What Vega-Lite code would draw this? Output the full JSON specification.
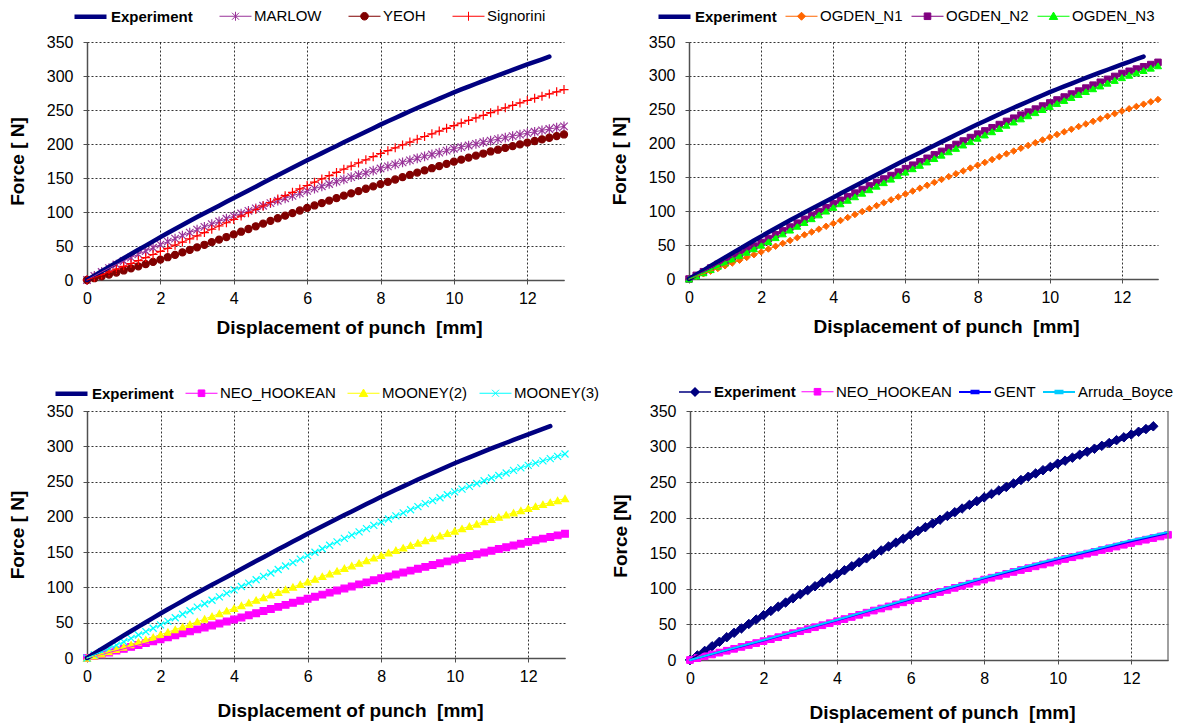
{
"$schema": "https://vega.github.io/schema/vega-lite/v6.json",
"padding": {"left": 8, "top": 4, "right": 1, "bottom": 1},
"background": "white",
"config": {
 "font": "Liberation Sans, Arial, sans-serif",
 "view": {"stroke": null},
 "axis": {"labelFontSize": 16, "labelColor": "#000000", "titleFontSize": 19, "titleFontWeight": "bold", "titleColor": "#000000", "grid": true, "gridColor": "#000000", "gridDash": [2, 2], "gridWidth": 0.8, "gridOpacity": 1, "domainColor": "#505050", "domainWidth": 1.5, "tickColor": "#505050", "tickSize": 4, "tickWidth": 1, "labelPadding": 6, "labelFlush": false, "labelOverlap": false},
 "axisY": {"titlePadding": 19, "labelPadding": 10},
 "axisX": {"titlePadding": 12},
 "legend": {"labelFontSize": 15, "labelColor": "#000000"}
},
"datasets": {"d": [
{"x":0,"Experiment":0,"MARLOW":0,"YEOH":0,"Signorini":0,"OGDEN_N1":0,"OGDEN_N2":0,"OGDEN_N3":0,"NEO_HOOKEAN":0,"MOONEY(2)":0,"MOONEY(3)":0,"GENT":0,"Arruda_Boyce":0},
{"x":0.2,"Experiment":6.4,"MARLOW":6,"YEOH":2.6,"Signorini":3.9,"OGDEN_N1":3.8,"OGDEN_N2":5.4,"OGDEN_N3":4.6,"NEO_HOOKEAN":2.6,"MOONEY(2)":3,"MOONEY(3)":4.5},
{"x":0.4,"Experiment":12.8,"MARLOW":11.8,"YEOH":5.3,"Signorini":7.8,"OGDEN_N1":7.7,"OGDEN_N2":10.8,"OGDEN_N3":9.3,"NEO_HOOKEAN":5.2,"MOONEY(2)":6,"MOONEY(3)":9.1},
{"x":0.6,"Experiment":19.2,"MARLOW":17.4,"YEOH":8.1,"Signorini":11.8,"OGDEN_N1":11.6,"OGDEN_N2":16.2,"OGDEN_N3":14,"NEO_HOOKEAN":7.8,"MOONEY(2)":9.1,"MOONEY(3)":13.7},
{"x":0.8,"Experiment":25.6,"MARLOW":22.8,"YEOH":11,"Signorini":15.9,"OGDEN_N1":15.5,"OGDEN_N2":21.6,"OGDEN_N3":19,"NEO_HOOKEAN":10.4,"MOONEY(2)":12.3,"MOONEY(3)":18.3},
{"x":1,"Experiment":32,"MARLOW":28,"YEOH":14,"Signorini":20,"OGDEN_N1":19.5,"OGDEN_N2":27,"OGDEN_N3":24,"NEO_HOOKEAN":13,"MOONEY(2)":15.5,"MOONEY(3)":23,"GENT":13.8,"Arruda_Boyce":14.2},
{"x":1.2,"Experiment":38.2,"MARLOW":33,"YEOH":17.1,"Signorini":24.3,"OGDEN_N1":23.6,"OGDEN_N2":32.4,"OGDEN_N3":29.2,"NEO_HOOKEAN":15.7,"MOONEY(2)":18.9,"MOONEY(3)":27.8},
{"x":1.4,"Experiment":44.4,"MARLOW":37.9,"YEOH":20.2,"Signorini":28.6,"OGDEN_N1":27.7,"OGDEN_N2":37.8,"OGDEN_N3":34.4,"NEO_HOOKEAN":18.4,"MOONEY(2)":22.4,"MOONEY(3)":32.6},
{"x":1.6,"Experiment":50.6,"MARLOW":42.7,"YEOH":23.3,"Signorini":33,"OGDEN_N1":31.8,"OGDEN_N2":43.2,"OGDEN_N3":39.6,"NEO_HOOKEAN":21.1,"MOONEY(2)":25.9,"MOONEY(3)":37.4},
{"x":1.8,"Experiment":56.8,"MARLOW":47.4,"YEOH":26.6,"Signorini":37.5,"OGDEN_N1":35.9,"OGDEN_N2":48.6,"OGDEN_N3":44.8,"NEO_HOOKEAN":23.8,"MOONEY(2)":29.4,"MOONEY(3)":42.2},
{"x":2,"Experiment":63,"MARLOW":52,"YEOH":30,"Signorini":42,"OGDEN_N1":40,"OGDEN_N2":54,"OGDEN_N3":50,"NEO_HOOKEAN":26.5,"MOONEY(2)":33,"MOONEY(3)":47,"GENT":27.5,"Arruda_Boyce":28.2},
{"x":2.2,"Experiment":69,"MARLOW":56.5,"YEOH":33.5,"Signorini":46.6,"OGDEN_N1":44.2,"OGDEN_N2":59.7,"OGDEN_N3":55.6,"NEO_HOOKEAN":29.3,"MOONEY(2)":36.7,"MOONEY(3)":52},
{"x":2.4,"Experiment":74.9,"MARLOW":60.9,"YEOH":37,"Signorini":51.2,"OGDEN_N1":48.4,"OGDEN_N2":65.4,"OGDEN_N3":61.2,"NEO_HOOKEAN":32.1,"MOONEY(2)":40.4,"MOONEY(3)":57},
{"x":2.6,"Experiment":80.8,"MARLOW":65.3,"YEOH":40.6,"Signorini":55.8,"OGDEN_N1":52.6,"OGDEN_N2":71.1,"OGDEN_N3":66.8,"NEO_HOOKEAN":34.9,"MOONEY(2)":44.1,"MOONEY(3)":62},
{"x":2.8,"Experiment":86.7,"MARLOW":69.7,"YEOH":44.3,"Signorini":60.4,"OGDEN_N1":56.8,"OGDEN_N2":76.8,"OGDEN_N3":72.4,"NEO_HOOKEAN":37.7,"MOONEY(2)":47.8,"MOONEY(3)":67},
{"x":3,"Experiment":92.5,"MARLOW":74,"YEOH":48,"Signorini":65,"OGDEN_N1":61,"OGDEN_N2":82.5,"OGDEN_N3":78,"NEO_HOOKEAN":40.5,"MOONEY(2)":51.5,"MOONEY(3)":72,"GENT":41.6,"Arruda_Boyce":42.3},
{"x":3.2,"Experiment":98.1,"MARLOW":78.1,"YEOH":51.8,"Signorini":69.8,"OGDEN_N1":65.2,"OGDEN_N2":88.2,"OGDEN_N3":83.6,"NEO_HOOKEAN":43.3,"MOONEY(2)":55.3,"MOONEY(3)":76.9},
{"x":3.4,"Experiment":103.7,"MARLOW":82.1,"YEOH":55.6,"Signorini":74.6,"OGDEN_N1":69.4,"OGDEN_N2":93.9,"OGDEN_N3":89.2,"NEO_HOOKEAN":46.1,"MOONEY(2)":59.1,"MOONEY(3)":81.8},
{"x":3.6,"Experiment":109.3,"MARLOW":86.1,"YEOH":59.4,"Signorini":79.4,"OGDEN_N1":73.6,"OGDEN_N2":99.6,"OGDEN_N3":94.8,"NEO_HOOKEAN":48.9,"MOONEY(2)":62.9,"MOONEY(3)":86.7},
{"x":3.8,"Experiment":114.9,"MARLOW":90.1,"YEOH":63.2,"Signorini":84.2,"OGDEN_N1":77.8,"OGDEN_N2":105.3,"OGDEN_N3":100.4,"NEO_HOOKEAN":51.7,"MOONEY(2)":66.7,"MOONEY(3)":91.6},
{"x":4,"Experiment":120.5,"MARLOW":94,"YEOH":67,"Signorini":89,"OGDEN_N1":82,"OGDEN_N2":111,"OGDEN_N3":106,"NEO_HOOKEAN":54.5,"MOONEY(2)":70.5,"MOONEY(3)":96.5,"GENT":55.8,"Arruda_Boyce":56.6},
{"x":4.2,"Experiment":126.1,"MARLOW":97.8,"YEOH":71,"Signorini":94,"OGDEN_N1":86.4,"OGDEN_N2":116.3,"OGDEN_N3":111.2,"NEO_HOOKEAN":57.5,"MOONEY(2)":74.3,"MOONEY(3)":101.3},
{"x":4.4,"Experiment":131.7,"MARLOW":101.6,"YEOH":75,"Signorini":99,"OGDEN_N1":90.8,"OGDEN_N2":121.6,"OGDEN_N3":116.4,"NEO_HOOKEAN":60.5,"MOONEY(2)":78.1,"MOONEY(3)":106.1},
{"x":4.6,"Experiment":137.3,"MARLOW":105.4,"YEOH":79,"Signorini":104,"OGDEN_N1":95.2,"OGDEN_N2":126.9,"OGDEN_N3":121.6,"NEO_HOOKEAN":63.5,"MOONEY(2)":81.9,"MOONEY(3)":110.9},
{"x":4.8,"Experiment":142.9,"MARLOW":109.2,"YEOH":83,"Signorini":109,"OGDEN_N1":99.6,"OGDEN_N2":132.2,"OGDEN_N3":126.8,"NEO_HOOKEAN":66.5,"MOONEY(2)":85.7,"MOONEY(3)":115.7},
{"x":5,"Experiment":148.5,"MARLOW":113,"YEOH":87,"Signorini":114,"OGDEN_N1":104,"OGDEN_N2":137.5,"OGDEN_N3":132,"NEO_HOOKEAN":69.5,"MOONEY(2)":89.5,"MOONEY(3)":120.5,"GENT":70.8,"Arruda_Boyce":71.7},
{"x":5.2,"Experiment":154,"MARLOW":116.6,"YEOH":90.8,"Signorini":119,"OGDEN_N1":108.3,"OGDEN_N2":142.6,"OGDEN_N3":137.2,"NEO_HOOKEAN":72.4,"MOONEY(2)":93.2,"MOONEY(3)":125.4},
{"x":5.4,"Experiment":159.5,"MARLOW":120.2,"YEOH":94.6,"Signorini":124,"OGDEN_N1":112.6,"OGDEN_N2":147.7,"OGDEN_N3":142.4,"NEO_HOOKEAN":75.3,"MOONEY(2)":96.9,"MOONEY(3)":130.3},
{"x":5.6,"Experiment":165,"MARLOW":123.8,"YEOH":98.4,"Signorini":129,"OGDEN_N1":116.9,"OGDEN_N2":152.8,"OGDEN_N3":147.6,"NEO_HOOKEAN":78.2,"MOONEY(2)":100.6,"MOONEY(3)":135.2},
{"x":5.8,"Experiment":170.5,"MARLOW":127.4,"YEOH":102.2,"Signorini":134,"OGDEN_N1":121.2,"OGDEN_N2":157.9,"OGDEN_N3":152.8,"NEO_HOOKEAN":81.1,"MOONEY(2)":104.3,"MOONEY(3)":140.1},
{"x":6,"Experiment":176,"MARLOW":131,"YEOH":106,"Signorini":139,"OGDEN_N1":125.5,"OGDEN_N2":163,"OGDEN_N3":158,"NEO_HOOKEAN":84,"MOONEY(2)":108,"MOONEY(3)":145,"GENT":85.5,"Arruda_Boyce":86.5},
{"x":6.2,"Experiment":181.3,"MARLOW":134.4,"YEOH":109.6,"Signorini":143.8,"OGDEN_N1":129.8,"OGDEN_N2":168.1,"OGDEN_N3":163,"NEO_HOOKEAN":86.9,"MOONEY(2)":111.8,"MOONEY(3)":149.9},
{"x":6.4,"Experiment":186.6,"MARLOW":137.8,"YEOH":113.2,"Signorini":148.6,"OGDEN_N1":134.1,"OGDEN_N2":173.2,"OGDEN_N3":168,"NEO_HOOKEAN":89.8,"MOONEY(2)":115.6,"MOONEY(3)":154.8},
{"x":6.6,"Experiment":191.9,"MARLOW":141.2,"YEOH":116.8,"Signorini":153.4,"OGDEN_N1":138.4,"OGDEN_N2":178.3,"OGDEN_N3":173,"NEO_HOOKEAN":92.7,"MOONEY(2)":119.4,"MOONEY(3)":159.7},
{"x":6.8,"Experiment":197.2,"MARLOW":144.6,"YEOH":120.4,"Signorini":158.2,"OGDEN_N1":142.7,"OGDEN_N2":183.4,"OGDEN_N3":178,"NEO_HOOKEAN":95.6,"MOONEY(2)":123.2,"MOONEY(3)":164.6},
{"x":7,"Experiment":202.5,"MARLOW":148,"YEOH":124,"Signorini":163,"OGDEN_N1":147,"OGDEN_N2":188.5,"OGDEN_N3":183,"NEO_HOOKEAN":98.5,"MOONEY(2)":127,"MOONEY(3)":169.5,"GENT":100.2,"Arruda_Boyce":101.3},
{"x":7.2,"Experiment":207.7,"MARLOW":151.2,"YEOH":127.4,"Signorini":167.6,"OGDEN_N1":151.2,"OGDEN_N2":193.6,"OGDEN_N3":188,"NEO_HOOKEAN":101.4,"MOONEY(2)":130.7,"MOONEY(3)":174.1},
{"x":7.4,"Experiment":212.9,"MARLOW":154.4,"YEOH":130.8,"Signorini":172.2,"OGDEN_N1":155.4,"OGDEN_N2":198.7,"OGDEN_N3":193,"NEO_HOOKEAN":104.3,"MOONEY(2)":134.4,"MOONEY(3)":178.7},
{"x":7.6,"Experiment":218.1,"MARLOW":157.6,"YEOH":134.2,"Signorini":176.8,"OGDEN_N1":159.6,"OGDEN_N2":203.8,"OGDEN_N3":198,"NEO_HOOKEAN":107.2,"MOONEY(2)":138.1,"MOONEY(3)":183.3},
{"x":7.8,"Experiment":223.3,"MARLOW":160.8,"YEOH":137.6,"Signorini":181.4,"OGDEN_N1":163.8,"OGDEN_N2":208.9,"OGDEN_N3":203,"NEO_HOOKEAN":110.1,"MOONEY(2)":141.8,"MOONEY(3)":187.9},
{"x":8,"Experiment":228.5,"MARLOW":164,"YEOH":141,"Signorini":186,"OGDEN_N1":168,"OGDEN_N2":214,"OGDEN_N3":208,"NEO_HOOKEAN":113,"MOONEY(2)":145.5,"MOONEY(3)":192.5,"GENT":114.8,"Arruda_Boyce":116},
{"x":8.2,"Experiment":233.4,"MARLOW":167,"YEOH":144.4,"Signorini":190.2,"OGDEN_N1":172.2,"OGDEN_N2":218.7,"OGDEN_N3":212.8,"NEO_HOOKEAN":115.7,"MOONEY(2)":149,"MOONEY(3)":196.9},
{"x":8.4,"Experiment":238.3,"MARLOW":170,"YEOH":147.8,"Signorini":194.4,"OGDEN_N1":176.4,"OGDEN_N2":223.4,"OGDEN_N3":217.6,"NEO_HOOKEAN":118.4,"MOONEY(2)":152.5,"MOONEY(3)":201.3},
{"x":8.6,"Experiment":243.2,"MARLOW":173,"YEOH":151.2,"Signorini":198.6,"OGDEN_N1":180.6,"OGDEN_N2":228.1,"OGDEN_N3":222.4,"NEO_HOOKEAN":121.1,"MOONEY(2)":156,"MOONEY(3)":205.7},
{"x":8.8,"Experiment":248.1,"MARLOW":176,"YEOH":154.6,"Signorini":202.8,"OGDEN_N1":184.8,"OGDEN_N2":232.8,"OGDEN_N3":227.2,"NEO_HOOKEAN":123.8,"MOONEY(2)":159.5,"MOONEY(3)":210.1},
{"x":9,"Experiment":253,"MARLOW":179,"YEOH":158,"Signorini":207,"OGDEN_N1":189,"OGDEN_N2":237.5,"OGDEN_N3":232,"NEO_HOOKEAN":126.5,"MOONEY(2)":163,"MOONEY(3)":214.5,"GENT":128.5,"Arruda_Boyce":129.8},
{"x":9.2,"Experiment":257.6,"MARLOW":181.8,"YEOH":161.2,"Signorini":211,"OGDEN_N1":193.1,"OGDEN_N2":242,"OGDEN_N3":236.6,"NEO_HOOKEAN":129.1,"MOONEY(2)":166.4,"MOONEY(3)":218.7},
{"x":9.4,"Experiment":262.2,"MARLOW":184.6,"YEOH":164.4,"Signorini":215,"OGDEN_N1":197.2,"OGDEN_N2":246.5,"OGDEN_N3":241.2,"NEO_HOOKEAN":131.7,"MOONEY(2)":169.8,"MOONEY(3)":222.9},
{"x":9.6,"Experiment":266.8,"MARLOW":187.4,"YEOH":167.6,"Signorini":219,"OGDEN_N1":201.3,"OGDEN_N2":251,"OGDEN_N3":245.8,"NEO_HOOKEAN":134.3,"MOONEY(2)":173.2,"MOONEY(3)":227.1},
{"x":9.8,"Experiment":271.4,"MARLOW":190.2,"YEOH":170.8,"Signorini":223,"OGDEN_N1":205.4,"OGDEN_N2":255.5,"OGDEN_N3":250.4,"NEO_HOOKEAN":136.9,"MOONEY(2)":176.6,"MOONEY(3)":231.3},
{"x":10,"Experiment":276,"MARLOW":193,"YEOH":174,"Signorini":227,"OGDEN_N1":209.5,"OGDEN_N2":260,"OGDEN_N3":255,"NEO_HOOKEAN":139.5,"MOONEY(2)":180,"MOONEY(3)":235.5,"GENT":141.7,"Arruda_Boyce":143},
{"x":10.2,"Experiment":280.2,"MARLOW":195.4,"YEOH":177,"Signorini":230.8,"OGDEN_N1":213.4,"OGDEN_N2":264.4,"OGDEN_N3":259.4,"NEO_HOOKEAN":142,"MOONEY(2)":183.3,"MOONEY(3)":239.4},
{"x":10.4,"Experiment":284.4,"MARLOW":197.8,"YEOH":180,"Signorini":234.6,"OGDEN_N1":217.3,"OGDEN_N2":268.8,"OGDEN_N3":263.8,"NEO_HOOKEAN":144.5,"MOONEY(2)":186.6,"MOONEY(3)":243.3},
{"x":10.6,"Experiment":288.6,"MARLOW":200.2,"YEOH":183,"Signorini":238.4,"OGDEN_N1":221.2,"OGDEN_N2":273.2,"OGDEN_N3":268.2,"NEO_HOOKEAN":147,"MOONEY(2)":189.9,"MOONEY(3)":247.2},
{"x":10.8,"Experiment":292.8,"MARLOW":202.6,"YEOH":186,"Signorini":242.2,"OGDEN_N1":225.1,"OGDEN_N2":277.6,"OGDEN_N3":272.6,"NEO_HOOKEAN":149.5,"MOONEY(2)":193.2,"MOONEY(3)":251.1},
{"x":11,"Experiment":297,"MARLOW":205,"YEOH":189,"Signorini":246,"OGDEN_N1":229,"OGDEN_N2":282,"OGDEN_N3":277,"NEO_HOOKEAN":152,"MOONEY(2)":196.5,"MOONEY(3)":255,"GENT":154.3,"Arruda_Boyce":155.8},
{"x":11.2,"Experiment":301,"MARLOW":207.2,"YEOH":191.6,"Signorini":249.6,"OGDEN_N1":232.8,"OGDEN_N2":286.3,"OGDEN_N3":281.1,"NEO_HOOKEAN":154.5,"MOONEY(2)":199.6,"MOONEY(3)":258.6},
{"x":11.4,"Experiment":305,"MARLOW":209.4,"YEOH":194.2,"Signorini":253.2,"OGDEN_N1":236.6,"OGDEN_N2":290.6,"OGDEN_N3":285.2,"NEO_HOOKEAN":157,"MOONEY(2)":202.7,"MOONEY(3)":262.2},
{"x":11.6,"Experiment":309,"MARLOW":211.6,"YEOH":196.8,"Signorini":256.8,"OGDEN_N1":240.4,"OGDEN_N2":294.9,"OGDEN_N3":289.3,"NEO_HOOKEAN":159.5,"MOONEY(2)":205.8,"MOONEY(3)":265.8},
{"x":11.8,"Experiment":313,"MARLOW":213.8,"YEOH":199.4,"Signorini":260.4,"OGDEN_N1":244.2,"OGDEN_N2":299.2,"OGDEN_N3":293.4,"NEO_HOOKEAN":162,"MOONEY(2)":208.9,"MOONEY(3)":269.4},
{"x":12,"Experiment":317,"MARLOW":216,"YEOH":202,"Signorini":264,"OGDEN_N1":248,"OGDEN_N2":303.5,"OGDEN_N3":297.5,"NEO_HOOKEAN":164.5,"MOONEY(2)":212,"MOONEY(3)":273,"GENT":167,"Arruda_Boyce":168.5},
{"x":12.2,"Experiment":320.8,"MARLOW":218,"YEOH":204.4,"Signorini":267.2,"OGDEN_N1":251.4,"OGDEN_N2":306.8,"OGDEN_N3":301,"NEO_HOOKEAN":166.8,"MOONEY(2)":214.8,"MOONEY(3)":276.2},
{"x":12.4,"Experiment":324.6,"MARLOW":220,"YEOH":206.8,"Signorini":270.4,"OGDEN_N1":254.8,"OGDEN_N2":310.1,"OGDEN_N3":304.5,"NEO_HOOKEAN":169.1,"MOONEY(2)":217.6,"MOONEY(3)":279.4},
{"x":12.6,"Experiment":328.5,"MARLOW":222,"YEOH":209.2,"Signorini":273.6,"OGDEN_N1":258.2,"OGDEN_N2":313.4,"OGDEN_N3":308,"NEO_HOOKEAN":171.4,"MOONEY(2)":220.4,"MOONEY(3)":282.6},
{"x":12.8,"MARLOW":224,"YEOH":211.6,"Signorini":276.8,"OGDEN_N1":261.6,"OGDEN_N2":316.7,"OGDEN_N3":311.5,"NEO_HOOKEAN":173.7,"MOONEY(2)":223.2,"MOONEY(3)":285.8},
{"x":13,"MARLOW":226,"YEOH":214,"Signorini":280,"OGDEN_N1":265,"OGDEN_N2":320,"OGDEN_N3":315,"NEO_HOOKEAN":176,"MOONEY(2)":226,"MOONEY(3)":289,"GENT":178.5,"Arruda_Boyce":180}
]},
"spacing": 44,
"resolve": {"scale": {"x": "independent", "y": "independent", "color": "independent", "fill": "independent", "stroke": "independent", "shape": "independent", "size": "independent", "strokeWidth": "independent"}, "legend": {"color": "independent"}},
"vconcat": [
{"hconcat": [
 {
  "width": 477, "height": 238,
  "data": {"name": "d"},
  "transform": [{"fold": ["Experiment", "MARLOW", "YEOH", "Signorini"], "as": ["m", "F"]}, {"filter": "isValid(datum.F)"}],
  "layer": [
   {
    "transform": [{"filter": "datum.m !== 'Experiment'"}],
    "mark": {"type": "point", "opacity": 1, "strokeWidth": 1.2},
    "encoding": {
     "x": {"field": "x", "type": "quantitative", "scale": {"domain": [0, 13], "nice": false, "zero": false}, "axis": {"title": "Displacement of punch \u00a0[mm]", "titleX": 262, "values": [0, 2, 4, 6, 8, 10, 12]}},
     "y": {"field": "F", "type": "quantitative", "scale": {"domain": [0, 350], "nice": false}, "axis": {"title": "Force [ N]", "values": [0, 50, 100, 150, 200, 250, 300, 350]}},
     "shape": {"field": "m", "type": "nominal", "scale": {"domain": ["MARLOW", "YEOH", "Signorini"], "range": ["M-1,-1L1,1M-1,1L1,-1M0,-1.3V1.3", "circle", "M-1,0H1M0,-1V1"]}, "legend": null},
     "fill": {"field": "m", "type": "nominal", "scale": {"domain": ["MARLOW", "YEOH", "Signorini"], "range": ["transparent", "#800000", "transparent"]}, "legend": null},
     "stroke": {"field": "m", "type": "nominal", "scale": {"domain": ["MARLOW", "YEOH", "Signorini"], "range": ["#993399", "#800000", "#FF0000"]}, "legend": null},
     "size": {"field": "m", "type": "nominal", "scale": {"type": "ordinal", "domain": ["MARLOW", "YEOH", "Signorini"], "range": [56, 50, 81]}, "legend": null}
    }
   },
   {
    "mark": {"type": "line", "strokeCap": "round"},
    "encoding": {
     "x": {"field": "x", "type": "quantitative", "scale": {"domain": [0, 13], "nice": false, "zero": false}, "axis": {"title": "Displacement of punch \u00a0[mm]", "titleX": 262, "values": [0, 2, 4, 6, 8, 10, 12]}},
     "y": {"field": "F", "type": "quantitative", "scale": {"domain": [0, 350], "nice": false}, "axis": {"title": "Force [ N]", "values": [0, 50, 100, 150, 200, 250, 300, 350]}},
     "color": {"field": "m", "type": "nominal", "scale": {"domain": ["Experiment", "MARLOW", "YEOH", "Signorini"], "range": ["#000080", "#993399", "#800000", "#FF0000"]},
      "legend": {"orient": "none", "legendX": -9, "legendY": -38, "direction": "horizontal", "title": null, "labelOffset": 8, "columnPadding": 24, "symbolSize": 400,
       "encode": {
        "symbols": {"update": {
         "shape": {"signal": "datum.value === 'Experiment' ? 'M-1.6,0H1.6' : datum.value === 'MARLOW' ? 'M-1.6,0H1.6M-0.35,-0.35L0.35,0.35M-0.35,0.35L0.35,-0.35M0,-0.45V0.45' : datum.value === 'YEOH' ? 'M-1.6,0H1.6M0.38,0A0.38,0.38,0,1,1,-0.38,0A0.38,0.38,0,1,1,0.38,0Z' : 'M-1.6,0H1.6M0,-0.45V0.45'"},
         "size": {"value": 400},
         "strokeWidth": {"signal": "datum.value === 'Experiment' ? 4.5 : 1"},
         "fill": {"signal": "datum.value === 'YEOH' ? '#800000' : 'transparent'"}
        }},
        "labels": {"update": {"fontWeight": {"signal": "datum.value === 'Experiment' ? 'bold' : 'normal'"}}}
       }}},
     "strokeWidth": {"field": "m", "type": "nominal", "scale": {"type": "ordinal", "domain": ["Experiment", "MARLOW", "YEOH", "Signorini"], "range": [4.5, 1, 1, 1]}, "legend": null}
    }
   }
  ]
 },
 {
  "width": 469, "height": 237,
  "data": {"name": "d"},
  "transform": [{"fold": ["Experiment", "OGDEN_N1", "OGDEN_N2", "OGDEN_N3"], "as": ["m", "F"]}, {"filter": "isValid(datum.F)"}],
  "layer": [
   {
    "transform": [{"filter": "datum.m !== 'Experiment'"}],
    "mark": {"type": "point", "opacity": 1, "strokeWidth": 1},
    "encoding": {
     "x": {"field": "x", "type": "quantitative", "scale": {"domain": [0, 13], "nice": false, "zero": false}, "axis": {"title": "Displacement of punch \u00a0[mm]", "titleX": 257, "values": [0, 2, 4, 6, 8, 10, 12]}},
     "y": {"field": "F", "type": "quantitative", "scale": {"domain": [0, 350], "nice": false}, "axis": {"title": "Force [ N]", "values": [0, 50, 100, 150, 200, 250, 300, 350]}},
     "shape": {"field": "m", "type": "nominal", "scale": {"domain": ["OGDEN_N1", "OGDEN_N2", "OGDEN_N3"], "range": ["diamond", "square", "triangle-up"]}, "legend": null},
     "fill": {"field": "m", "type": "nominal", "scale": {"domain": ["OGDEN_N1", "OGDEN_N2", "OGDEN_N3"], "range": ["#FF6600", "#800080", "#00FF00"]}, "legend": null},
     "stroke": {"field": "m", "type": "nominal", "scale": {"domain": ["OGDEN_N1", "OGDEN_N2", "OGDEN_N3"], "range": ["#FF6600", "#800080", "#00FF00"]}, "legend": null},
     "size": {"field": "m", "type": "nominal", "scale": {"type": "ordinal", "domain": ["OGDEN_N1", "OGDEN_N2", "OGDEN_N3"], "range": [42, 42, 50]}, "legend": null}
    }
   },
   {
    "mark": {"type": "line", "strokeCap": "round"},
    "encoding": {
     "x": {"field": "x", "type": "quantitative", "scale": {"domain": [0, 13], "nice": false, "zero": false}, "axis": {"title": "Displacement of punch \u00a0[mm]", "titleX": 257, "values": [0, 2, 4, 6, 8, 10, 12]}},
     "y": {"field": "F", "type": "quantitative", "scale": {"domain": [0, 350], "nice": false}, "axis": {"title": "Force [ N]", "values": [0, 50, 100, 150, 200, 250, 300, 350]}},
     "color": {"field": "m", "type": "nominal", "scale": {"domain": ["Experiment", "OGDEN_N1", "OGDEN_N2", "OGDEN_N3"], "range": ["#000080", "#FF6600", "#800080", "#00FF00"]},
      "legend": {"orient": "none", "legendX": -27, "legendY": -38, "direction": "horizontal", "title": null, "labelOffset": 8, "columnPadding": 6, "symbolSize": 400,
       "encode": {
        "symbols": {"update": {
         "shape": {"signal": "datum.value === 'Experiment' ? 'M-1.6,0H1.6' : datum.value === 'OGDEN_N1' ? 'M-1.6,0H1.6M0,-0.4L0.4,0L0,0.4L-0.4,0Z' : datum.value === 'OGDEN_N2' ? 'M-1.6,0H1.6M-0.33,-0.33H0.33V0.33H-0.33Z' : 'M-1.6,0H1.6M0,-0.42L0.42,0.32H-0.42Z'"},
         "size": {"value": 400},
         "strokeWidth": {"signal": "datum.value === 'Experiment' ? 4.5 : 1"},
         "fill": {"signal": "datum.value === 'OGDEN_N1' ? '#FF6600' : datum.value === 'OGDEN_N2' ? '#800080' : datum.value === 'OGDEN_N3' ? '#00FF00' : 'transparent'"}
        }},
        "labels": {"update": {"fontWeight": {"signal": "datum.value === 'Experiment' ? 'bold' : 'normal'"}}}
       }}},
     "strokeWidth": {"field": "m", "type": "nominal", "scale": {"type": "ordinal", "domain": ["Experiment", "OGDEN_N1", "OGDEN_N2", "OGDEN_N3"], "range": [4.5, 1, 1, 1]}, "legend": null}
    }
   }
  ]
 }
], "spacing": 39,
"resolve": {"scale": {"x": "independent", "y": "independent", "color": "independent", "fill": "independent", "stroke": "independent", "shape": "independent", "size": "independent", "strokeWidth": "independent"}, "legend": {"color": "independent"}}},
{"hconcat": [
 {
  "width": 478, "height": 247,
  "data": {"name": "d"},
  "transform": [{"fold": ["Experiment", "NEO_HOOKEAN", "MOONEY(2)", "MOONEY(3)"], "as": ["m", "F"]}, {"filter": "isValid(datum.F)"}],
  "layer": [
   {
    "transform": [{"filter": "datum.m !== 'Experiment'"}],
    "mark": {"type": "point", "opacity": 1, "strokeWidth": 1.2},
    "encoding": {
     "x": {"field": "x", "type": "quantitative", "scale": {"domain": [0, 13], "nice": false, "zero": false}, "axis": {"title": "Displacement of punch \u00a0[mm]", "titleX": 263, "titlePadding": 17, "values": [0, 2, 4, 6, 8, 10, 12]}},
     "y": {"field": "F", "type": "quantitative", "scale": {"domain": [0, 350], "nice": false}, "axis": {"title": "Force [ N]", "values": [0, 50, 100, 150, 200, 250, 300, 350]}},
     "shape": {"field": "m", "type": "nominal", "scale": {"domain": ["NEO_HOOKEAN", "MOONEY(2)", "MOONEY(3)"], "range": ["square", "triangle-up", "M-1,-1L1,1M-1,1L1,-1"]}, "legend": null},
     "fill": {"field": "m", "type": "nominal", "scale": {"domain": ["NEO_HOOKEAN", "MOONEY(2)", "MOONEY(3)"], "range": ["#FF00FF", "#FFFF00", "transparent"]}, "legend": null},
     "stroke": {"field": "m", "type": "nominal", "scale": {"domain": ["NEO_HOOKEAN", "MOONEY(2)", "MOONEY(3)"], "range": ["#FF00FF", "#FFFF00", "#00FFFF"]}, "legend": null},
     "size": {"field": "m", "type": "nominal", "scale": {"type": "ordinal", "domain": ["NEO_HOOKEAN", "MOONEY(2)", "MOONEY(3)"], "range": [45, 50, 49]}, "legend": null}
    }
   },
   {
    "mark": {"type": "line", "strokeCap": "round"},
    "encoding": {
     "x": {"field": "x", "type": "quantitative", "scale": {"domain": [0, 13], "nice": false, "zero": false}, "axis": {"title": "Displacement of punch \u00a0[mm]", "titleX": 263, "titlePadding": 17, "values": [0, 2, 4, 6, 8, 10, 12]}},
     "y": {"field": "F", "type": "quantitative", "scale": {"domain": [0, 350], "nice": false}, "axis": {"title": "Force [ N]", "values": [0, 50, 100, 150, 200, 250, 300, 350]}},
     "color": {"field": "m", "type": "nominal", "scale": {"domain": ["Experiment", "NEO_HOOKEAN", "MOONEY(2)", "MOONEY(3)"], "range": ["#000080", "#FF00FF", "#FFFF00", "#00FFFF"]},
      "legend": {"orient": "none", "legendX": -28, "legendY": -30, "direction": "horizontal", "title": null, "labelOffset": 8, "columnPadding": 9, "symbolSize": 400,
       "encode": {
        "symbols": {"update": {
         "shape": {"signal": "datum.value === 'Experiment' ? 'M-1.6,0H1.6' : datum.value === 'NEO_HOOKEAN' ? 'M-1.6,0H1.6M-0.33,-0.33H0.33V0.33H-0.33Z' : datum.value === 'MOONEY(2)' ? 'M-1.6,0H1.6M0,-0.42L0.42,0.32H-0.42Z' : 'M-1.6,0H1.6M-0.35,-0.35L0.35,0.35M-0.35,0.35L0.35,-0.35'"},
         "size": {"value": 400},
         "strokeWidth": {"signal": "datum.value === 'Experiment' ? 4.5 : 1"},
         "fill": {"signal": "datum.value === 'NEO_HOOKEAN' ? '#FF00FF' : datum.value === 'MOONEY(2)' ? '#FFFF00' : 'transparent'"}
        }},
        "labels": {"update": {"fontWeight": {"signal": "datum.value === 'Experiment' ? 'bold' : 'normal'"}}}
       }}},
     "strokeWidth": {"field": "m", "type": "nominal", "scale": {"type": "ordinal", "domain": ["Experiment", "NEO_HOOKEAN", "MOONEY(2)", "MOONEY(3)"], "range": [4.5, 1, 1, 1]}, "legend": null}
    }
   }
  ]
 },
 {
  "width": 478, "height": 249,
  "data": {"name": "d"},
  "transform": [{"fold": ["Experiment", "NEO_HOOKEAN", "GENT", "Arruda_Boyce"], "as": ["m", "F"]}, {"filter": "isValid(datum.F)"}],
  "layer": [
   {
    "transform": [{"filter": "datum.m === 'Experiment'"}],
    "mark": {"type": "line", "color": "#000080", "strokeWidth": 5, "strokeCap": "round"},
    "encoding": {
     "x": {"field": "x", "type": "quantitative", "scale": {"domain": [0, 13], "nice": false, "zero": false}, "axis": {"title": "Displacement of punch \u00a0[mm]", "titleX": 252, "titlePadding": 17, "values": [0, 2, 4, 6, 8, 10, 12]}},
     "y": {"field": "F", "type": "quantitative", "scale": {"domain": [0, 350], "nice": false}, "axis": {"title": "Force [N]", "values": [0, 50, 100, 150, 200, 250, 300, 350]}}
    }
   },
   {
    "transform": [{"filter": "datum.m === 'Experiment' || datum.m === 'NEO_HOOKEAN'"}],
    "mark": {"type": "point", "opacity": 1, "strokeWidth": 1},
    "encoding": {
     "x": {"field": "x", "type": "quantitative", "scale": {"domain": [0, 13], "nice": false, "zero": false}, "axis": {"title": "Displacement of punch \u00a0[mm]", "titleX": 252, "titlePadding": 17, "values": [0, 2, 4, 6, 8, 10, 12]}},
     "y": {"field": "F", "type": "quantitative", "scale": {"domain": [0, 350], "nice": false}, "axis": {"title": "Force [N]", "values": [0, 50, 100, 150, 200, 250, 300, 350]}},
     "shape": {"field": "m", "type": "nominal", "scale": {"domain": ["Experiment", "NEO_HOOKEAN"], "range": ["diamond", "square"]}, "legend": null},
     "fill": {"field": "m", "type": "nominal", "scale": {"domain": ["Experiment", "NEO_HOOKEAN"], "range": ["#000080", "#FF00FF"]}, "legend": null},
     "stroke": {"field": "m", "type": "nominal", "scale": {"domain": ["Experiment", "NEO_HOOKEAN"], "range": ["#000080", "#FF00FF"]}, "legend": null},
     "size": {"field": "m", "type": "nominal", "scale": {"type": "ordinal", "domain": ["Experiment", "NEO_HOOKEAN"], "range": [90, 45]}, "legend": null}
    }
   },
   {
    "mark": {"type": "line", "strokeCap": "round"},
    "encoding": {
     "x": {"field": "x", "type": "quantitative", "scale": {"domain": [0, 13], "nice": false, "zero": false}, "axis": {"title": "Displacement of punch \u00a0[mm]", "titleX": 252, "titlePadding": 17, "values": [0, 2, 4, 6, 8, 10, 12]}},
     "y": {"field": "F", "type": "quantitative", "scale": {"domain": [0, 350], "nice": false}, "axis": {"title": "Force [N]", "values": [0, 50, 100, 150, 200, 250, 300, 350]}},
     "color": {"field": "m", "type": "nominal", "scale": {"domain": ["Experiment", "NEO_HOOKEAN", "GENT", "Arruda_Boyce"], "range": ["#000080", "#FF00FF", "#0000FF", "#00CCFF"]},
      "legend": {"orient": "none", "legendX": -6, "legendY": -30, "direction": "horizontal", "title": null, "labelOffset": 8, "columnPadding": 3, "symbolSize": 400,
       "encode": {
        "symbols": {"update": {
         "shape": {"signal": "datum.value === 'Experiment' ? 'M-1.6,0H1.6M0,-0.4L0.4,0L0,0.4L-0.4,0Z' : datum.value === 'NEO_HOOKEAN' ? 'M-1.6,0H1.6M-0.33,-0.33H0.33V0.33H-0.33Z' : 'M-1.6,0H1.6M-0.35,-0.12H0.35V0.12H-0.35Z'"},
         "size": {"value": 400},
         "strokeWidth": {"value": 1},
         "fill": {"signal": "datum.value === 'Experiment' ? '#000080' : datum.value === 'NEO_HOOKEAN' ? '#FF00FF' : datum.value === 'GENT' ? '#0000FF' : '#00CCFF'"}
        }},
        "labels": {"update": {"fontWeight": {"signal": "datum.value === 'Experiment' ? 'bold' : 'normal'"}}}
       }}},
     "strokeWidth": {"field": "m", "type": "nominal", "scale": {"type": "ordinal", "domain": ["Experiment", "NEO_HOOKEAN", "GENT", "Arruda_Boyce"], "range": [1.5, 1, 2, 2]}, "legend": null}
    }
   },
   {
    "data": {"values": [{}]},
    "mark": {"type": "rule", "color": "#808080", "strokeWidth": 1.5},
    "encoding": {"x": {"datum": 13}}
   }
  ]
 }
], "spacing": 11,
"resolve": {"scale": {"x": "independent", "y": "independent", "color": "independent", "fill": "independent", "stroke": "independent", "shape": "independent", "size": "independent", "strokeWidth": "independent"}, "legend": {"color": "independent"}}}
]
}
